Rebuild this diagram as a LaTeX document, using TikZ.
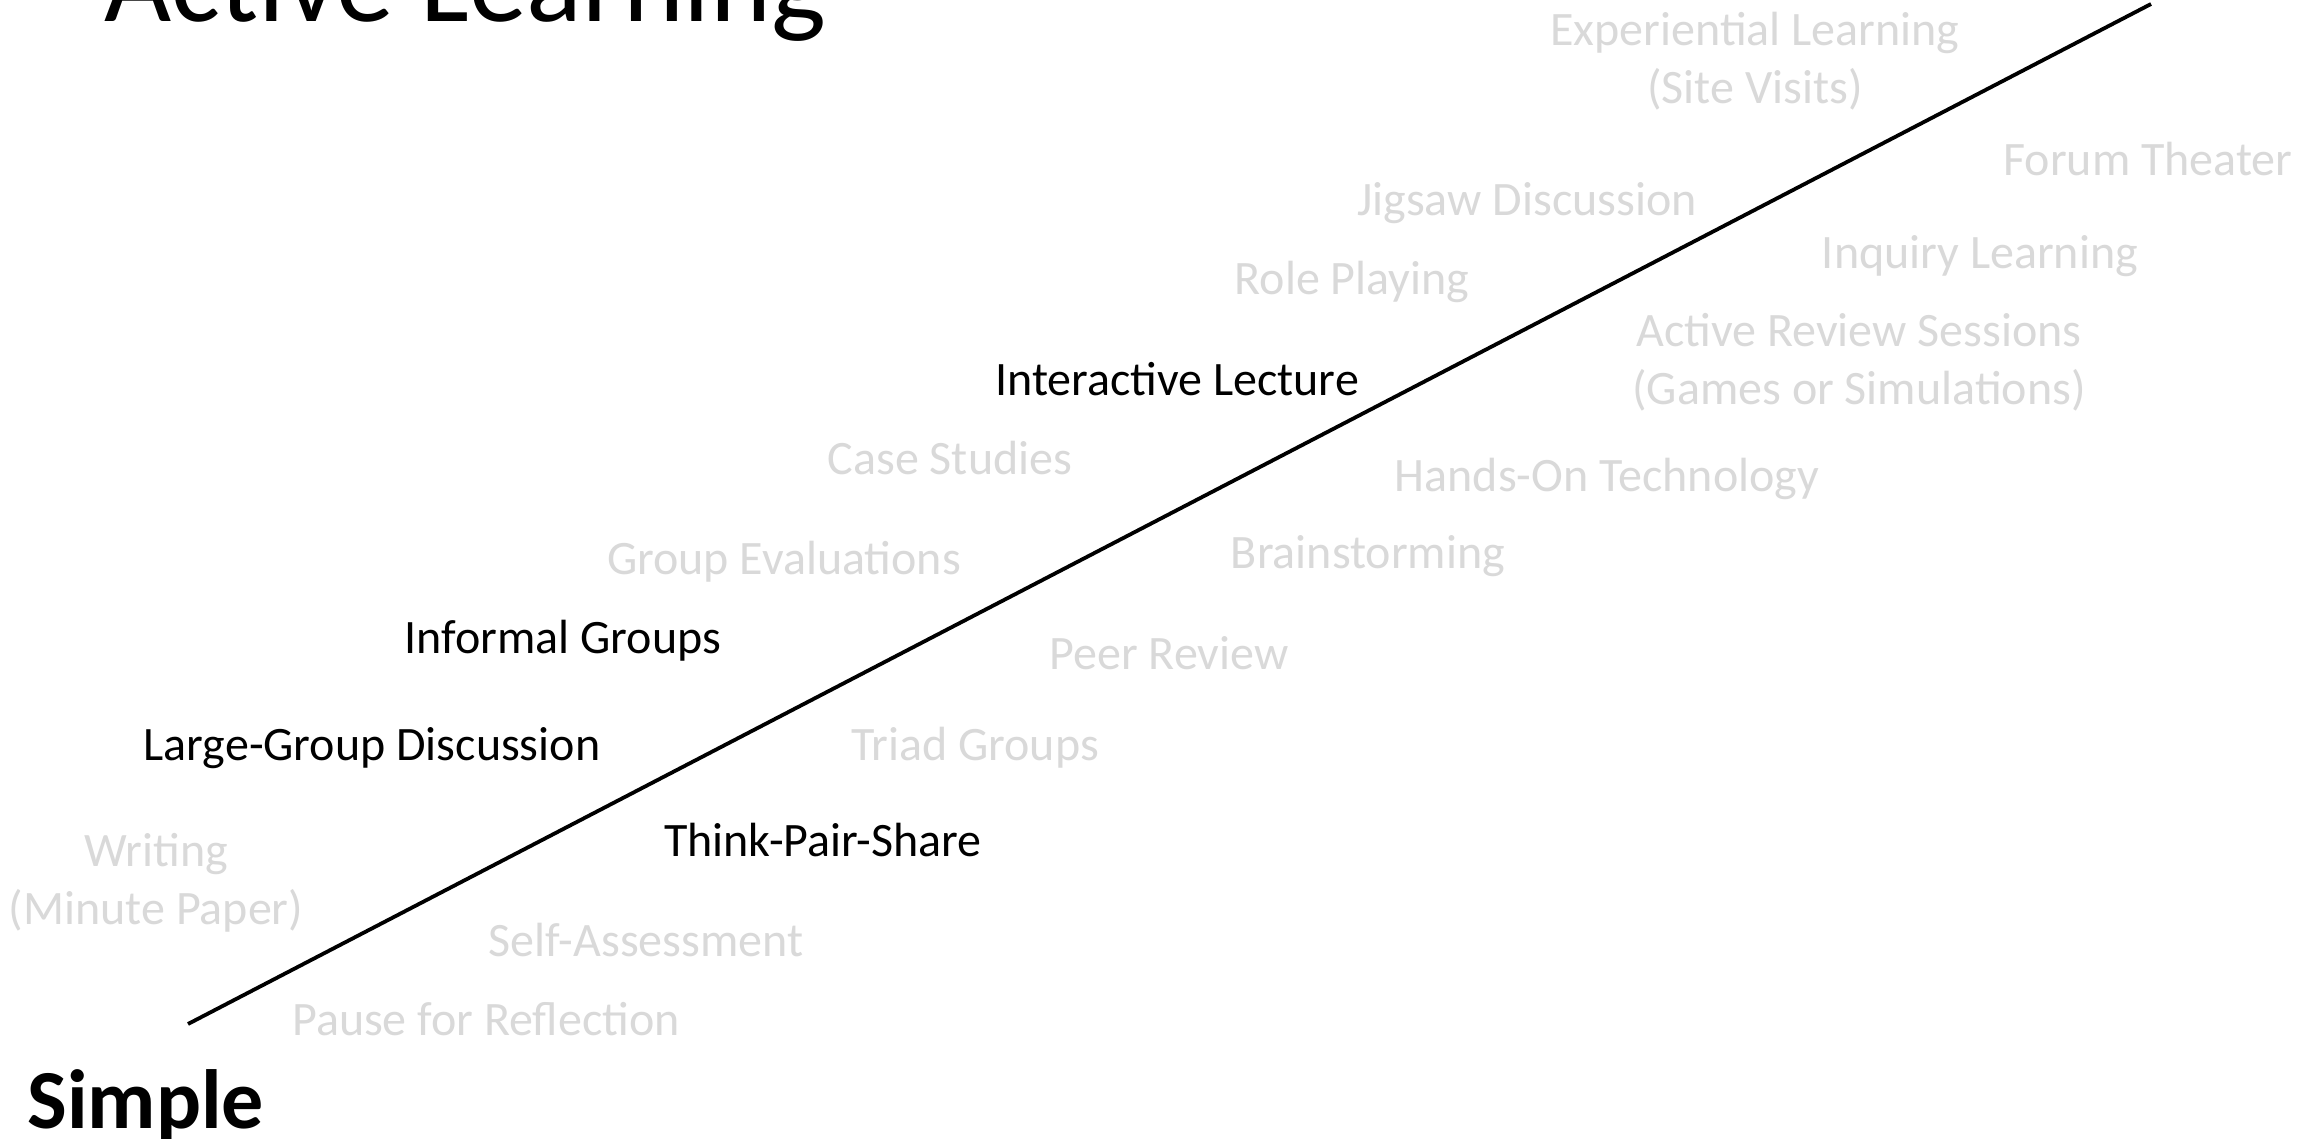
\documentclass[tikz,border=0pt]{standalone}
\usepackage{fontspec}
\setmainfont{Carlito}
\definecolor{lightgr}{HTML}{D9D9D9}
\tikzset{
  item/.style={inner sep=0pt, anchor=base, font=\fontsize{24}{29}\selectfont, align=center},
  faded/.style={item, text=lightgr},
  strong/.style={item, text=black},
}
\begin{document}
\begin{tikzpicture}[x=0.5pt,y=-0.5pt]
\useasboundingbox (0,0) rectangle (2323,1139);
\clip (0,0) rectangle (2323,1139);
\fill[white] (0,0) rectangle (2323,1139);
\node[inner sep=0pt, anchor=base west, font=\fontsize{58}{68}\selectfont] (title) at (104,22) {Active Learning};
\coordinate (lo) at (188,1024);
\coordinate (hi) at (2151,4);
\draw[line width=1.9pt] (lo) -- (hi);
\node[faded] (exp) at (1755,104) {Experiential Learning\\(Site Visits)};
\node[faded] (forum) at (2148,176) {Forum Theater};
\node[faded] (jig) at (1527,216) {Jigsaw Discussion};
\node[faded] (inq) at (1980,269) {Inquiry Learning};
\node[faded] (role) at (1352,294) {Role Playing};
\node[faded] (arev) at (1859,404) {Active Review Sessions\\(Games or Simulations)};
\node[strong] (ilec) at (1177,395) {Interactive Lecture};
\node[faded] (case) at (950,474) {Case Studies};
\node[faded] (hands) at (1607,491) {Hands-On Technology};
\node[faded] (brain) at (1368,568) {Brainstorming};
\node[faded] (geval) at (784,574) {Group Evaluations};
\node[strong] (infg) at (563,653) {Informal Groups};
\node[faded] (peer) at (1169,669) {Peer Review};
\node[strong] (lgd) at (372,760) {Large-Group Discussion};
\node[faded] (triad) at (975,760) {Triad Groups};
\node[strong] (tps) at (823,856) {Think-Pair-Share};
\node[faded] (writ) at (156,924) {Writing\\(Minute Paper)};
\node[faded] (self) at (646,956) {Self-Assessment};
\node[faded] (pause) at (486,1035) {Pause for Reflection};
\node[inner sep=0pt, anchor=base west, font=\fontsize{42}{50}\bfseries\selectfont] (simple) at (27,1128) {Simple};
\end{tikzpicture}
\end{document}
